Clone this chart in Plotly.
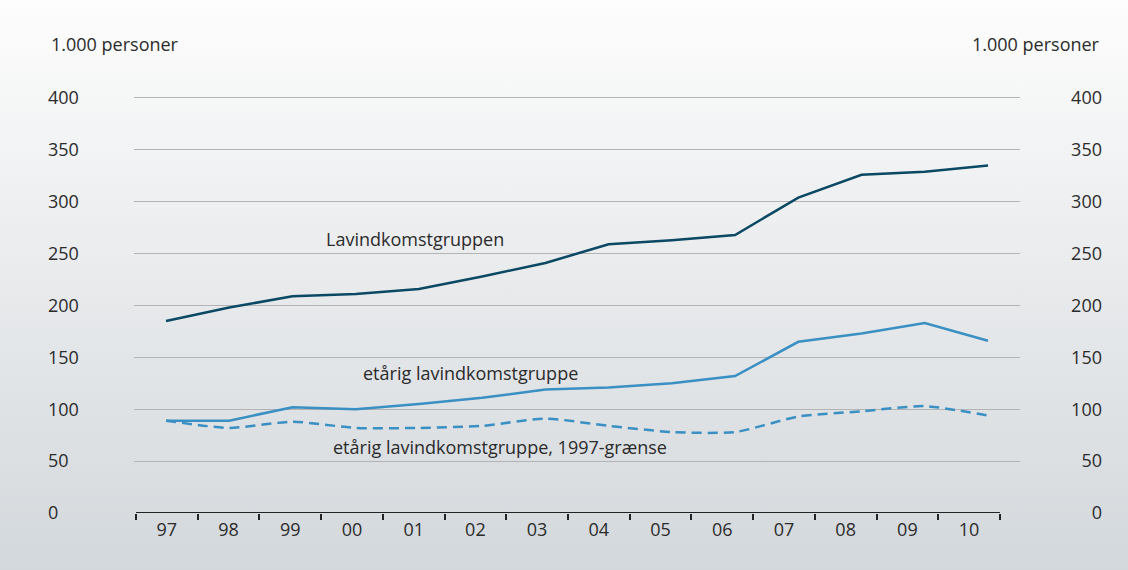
import base64
import plotly.graph_objects as go

years = ["97", "98", "99", "00", "01", "02", "03", "04", "05", "06", "07", "08", "09", "10"]
lavindkomst = [185, 198, 209, 211, 216, 228, 241, 259, 263, 268, 304, 326, 329, 335]
etaarig = [89, 89, 102, 100, 105, 111, 119, 121, 125, 132, 165, 173, 183, 166]
etaarig_1997 = [89, 82, 88, 82, 82, 84, 91, 84, 78, 78, 93, 98, 103, 94]
y_ticks = [0, 50, 100, 150, 200, 250, 300, 350, 400]

W, H = 1128, 570
FONT = "Open Sans"
FS = 18
TXT = "#2b2b2b"
DARK = "#0b4863"
LIGHT = "#3a8fc3"

xs = list(range(len(years)))

# plot area in pixels
ppu = (513 - 98) / 400.0
y_top = 402
px_l, px_r = 134.4, 1019.6
py_b = 513
py_t = py_b - y_top * ppu
xdom = [px_l / W, px_r / W]
ydom = [(H - py_b) / H, (H - py_t) / H]

# category axis (bands, tick labels) slightly narrower than plot area
band = 61.71
a = -0.5 - (136 - px_l) / band
b = a + (px_r - px_l) / band

svg = f'''<svg xmlns="http://www.w3.org/2000/svg" width="{W}" height="{H}" preserveAspectRatio="none">
<defs><linearGradient id="g" x1="0" y1="0" x2="0" y2="1">
<stop offset="0" stop-color="#fdfdfd"/><stop offset="0.5" stop-color="#e8eaec"/><stop offset="1" stop-color="#d3d8dc"/>
</linearGradient></defs><rect width="{W}" height="{H}" fill="url(#g)"/></svg>'''
bg_src = "data:image/svg+xml;base64," + base64.b64encode(svg.encode()).decode()

fig = go.Figure()
fig.add_trace(go.Scatter(x=xs, y=lavindkomst, mode="lines", line=dict(color=DARK, width=2.5),
                         hoverinfo="skip", showlegend=False))
fig.add_trace(go.Scatter(x=xs, y=etaarig, mode="lines", line=dict(color=LIGHT, width=2.5),
                         hoverinfo="skip", showlegend=False))
fig.add_trace(go.Scatter(x=xs, y=etaarig_1997, mode="lines",
                         line=dict(color=LIGHT, width=2.5, dash="10px,6px", shape="spline", smoothing=0.6),
                         hoverinfo="skip", showlegend=False))
# helper trace to activate the category axis
fig.add_trace(go.Scatter(x=years, y=[0] * len(years), xaxis="x2", yaxis="y2", mode="lines",
                         opacity=0, hoverinfo="skip", showlegend=False))

fig.update_layout(
    width=W, height=H,
    margin=dict(l=0, r=0, t=0, b=0),
    paper_bgcolor="rgba(0,0,0,0)",
    plot_bgcolor="rgba(0,0,0,0)",
    font=dict(family=FONT, size=FS, color=TXT),
    hovermode=False,
    xaxis=dict(domain=xdom, range=[-0.5, 13.5], showticklabels=False, ticks="",
               showgrid=False, zeroline=False, showline=False, anchor="y", automargin=False),
    xaxis2=dict(domain=xdom, overlaying="x", type="category", categoryorder="array",
                categoryarray=years, range=[a, b], anchor="y2",
                tickson="boundaries", ticks="outside", ticklen=6, tickwidth=1.5, tickcolor="#222",
                tickfont=dict(size=FS, color=TXT), ticklabelstandoff=4,
                showgrid=False, zeroline=False, showline=False, automargin=False),
    yaxis=dict(domain=ydom, range=[0, y_top], tickvals=y_ticks, side="right", anchor="free",
               position=47 / W, ticks="", showgrid=True, gridcolor="#b4b4b4", gridwidth=1,
               zeroline=False, showline=False, ticklabelstandoff=0, automargin=False,
               tickfont=dict(size=FS, color=TXT)),
    yaxis2=dict(domain=ydom, range=[0, y_top], tickvals=y_ticks, overlaying="y", side="left",
                anchor="free", position=1102 / W, ticks="", showgrid=False, zeroline=False,
                showline=False, ticklabelstandoff=0, automargin=False,
                tickfont=dict(size=FS, color=TXT)),
    images=[dict(source=bg_src, xref="paper", yref="paper", x=0, y=1, sizex=1, sizey=1,
                 sizing="stretch", layer="below", xanchor="left", yanchor="top")],
    shapes=[dict(type="line", xref="x2", yref="y2", x0=-0.5, x1=len(years) - 0.5, y0=0, y1=0,
                 line=dict(color="#222", width=1.8))],
    annotations=[
        dict(text="1.000 personer", xref="paper", yref="paper", x=49 / W, y=1 - 44 / H,
             xanchor="left", yanchor="middle", showarrow=False, font=dict(size=FS, color=TXT)),
        dict(text="1.000 personer", xref="paper", yref="paper", x=1102 / W, y=1 - 44 / H,
             xanchor="right", yanchor="middle", showarrow=False, font=dict(size=FS, color=TXT)),
        dict(text="Lavindkomstgruppen", x=3.94, y=264, xref="x", yref="y", showarrow=False,
             font=dict(size=FS, color=TXT)),
        dict(text="etårig lavindkomstgruppe", x=4.81, y=135, xref="x", yref="y", showarrow=False,
             font=dict(size=FS, color=TXT)),
        dict(text="etårig lavindkomstgruppe, 1997-grænse", x=5.28, y=63.6, xref="x", yref="y",
             showarrow=False, font=dict(size=FS, color=TXT)),
    ],
)

fig.write_html("out.html", config={"displayModeBar": False},
               post_script="document.body.style.margin='0';document.body.style.padding='0';")
